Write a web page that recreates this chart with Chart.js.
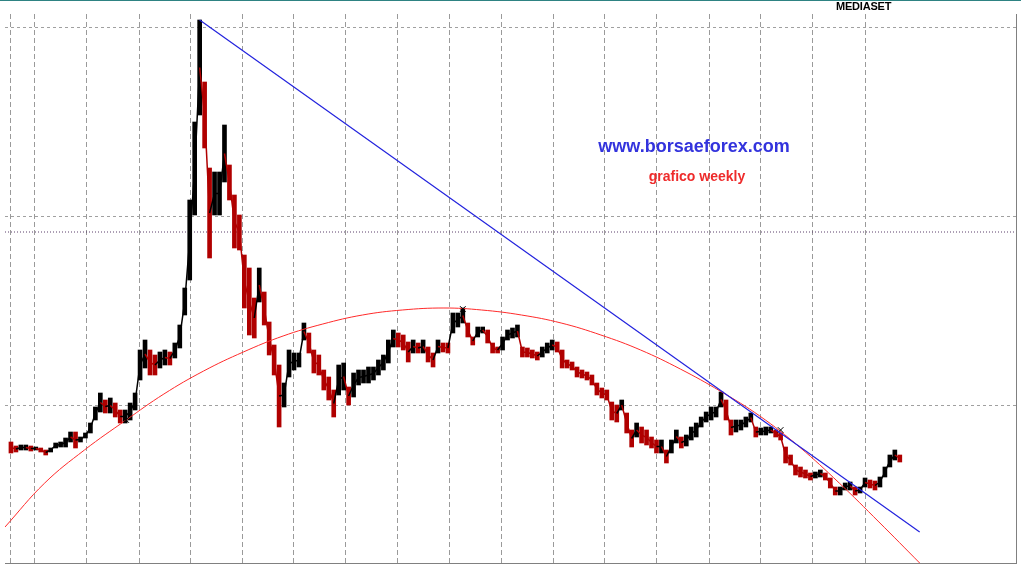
<!DOCTYPE html>
<html>
<head>
<meta charset="utf-8">
<script src="https://cdn.jsdelivr.net/npm/chart.js@4.4.1/dist/chart.umd.min.js"></script>
<style>
html, body { margin: 0; padding: 0; background: #fff; }
#wrap { position: relative; width: 1021px; height: 577px; overflow: hidden; }
#wrap canvas { position: absolute; left: 0; top: 0; }
#topline { position: absolute; left: 0; top: 0; width: 1021px; height: 1px; background: #2e8383; }
.lbl { position: absolute; font-family: "Liberation Sans", Arial, sans-serif; font-weight: bold; white-space: nowrap; line-height: 1; }
</style>
</head>
<body>
<div id="wrap">
  <canvas id="chart" width="1021" height="577"></canvas>
  <div id="topline"></div>
  <div class="lbl" style="left:836px;top:1px;font-size:11px;color:#000;letter-spacing:-0.2px">MEDIASET</div>
  <div class="lbl" style="left:694px;top:137px;font-size:18px;color:#3333dd;transform:translateX(-50%)">www.borsaeforex.com</div>
  <div class="lbl" style="left:697px;top:169px;font-size:14px;color:#ee2b2b;transform:translateX(-50%)">grafico weekly</div>
</div>

<script>
// weekly bars, one sample every 5 weeks starting july 1996 (week 0)
const firstWeek = 0;
const stepWeeks = 5;

// index points (high / low of each 5-week block)
const highs = [121,117,118,118,117,116,115,113,115,120,121,125,131,131,126,130,140,156,170,163,
  165,160,153,153,160,170,213,223,213,208,211,213,211,220,238,275,363,441,543,481,
  395,391,391,438,398,368,348,308,295,265,295,271,241,218,198,180,213,210,210,240,
  230,213,208,193,186,173,198,200,176,190,193,193,196,196,203,208,223,233,230,228,
  221,223,220,223,216,210,223,220,220,250,250,255,240,226,236,236,233,220,216,226,
  233,235,238,216,215,213,211,216,220,223,221,213,203,201,196,193,191,188,180,175,
  173,161,158,163,150,133,140,136,133,126,123,123,113,123,133,126,128,136,140,146,
  151,156,156,171,163,143,143,143,146,150,136,135,136,136,133,130,116,108,98,96,
  93,90,91,93,90,85,76,76,80,81,76,76,85,83,82,86,96,108,113,108];
const lows = [110,111,113,113,112,113,111,108,111,115,116,116,121,115,121,125,130,143,151,150,
  150,146,140,140,143,153,183,195,188,188,195,198,198,205,215,248,283,348,448,415,
  305,348,348,381,363,315,313,255,228,225,261,238,208,188,136,156,186,193,196,223,
  210,190,188,173,163,146,168,173,158,166,178,180,180,183,188,193,200,216,216,213,
  201,210,210,210,201,196,210,211,210,230,236,240,226,218,226,230,220,210,210,213,
  223,225,226,206,206,205,203,206,210,213,211,195,195,193,186,185,183,178,168,165,
  163,143,141,153,130,116,126,120,118,115,110,110,100,110,120,115,117,123,126,136,
  141,143,146,156,143,128,131,133,136,141,126,128,128,130,126,123,100,98,88,86,
  85,83,85,86,83,75,68,68,73,73,68,70,76,75,73,76,86,96,103,101];

// year boundaries (vertical grid) and horizontal levels
const gridWeeks = [0, 24, 76, 129, 181, 233, 285, 337, 389, 442, 494, 546, 598, 650, 703, 755, 807, 860];
const gridYears = ['1996', '1997', '1998', '1999', '2000', '2001', '2002', '2003', '2004', '2005', '2006', '2007', '2008', '2009', '2010', '2011', '2012', '2013'];
const levels = [535, 347, 158];
const dottedLevel = 331;

// trend line (blue) and arc (red)
const trendWeeks = [190, 915];
const trendValues = [543, 31];
const arcWeeks = [-6, 34, 74, 116, 154, 194, 234, 274, 314, 354, 394, 436, 474, 514, 554, 594, 634, 674, 714, 754, 794, 834, 874, 915];
const arcValues = [36, 80, 113, 143, 169, 192, 211, 227, 239, 248, 253, 255, 253, 248, 240, 228, 213, 194, 172, 147, 116, 80, 41, 0];

// crosses
const markWeeks = [116, 455, 775];
const markValues = [143, 254, 133];

const sampleWeeks = highs.map((h, i) => firstWeek + i * stepWeeks);
const mids = highs.map((h, i) => (h + lows[i]) / 2);
const barColors = mids.map((m, i) => (i > 0 && m >= mids[i - 1]) ? '#000000' : '#b00000');

const ctx = document.getElementById('chart').getContext('2d');
const chart = new Chart(ctx, {
  data: {
    datasets: [
      {
        type: 'line',
        data: [{x: -6, y: dottedLevel}, {x: 1012, y: dottedLevel}],
        borderColor: '#5b3f6a',
        borderWidth: 1,
        borderDash: [1, 2],
        pointRadius: 0,
        order: 4
      },
      {
        type: 'bar',
        data: sampleWeeks.map((w, i) => ({x: w, y: [lows[i], highs[i]]})),
        backgroundColor: barColors,
        borderWidth: 0,
        barThickness: 4,
        order: 3
      },
      {
        // thin joint between consecutive blocks
        type: 'line',
        data: sampleWeeks.map((w, i) => ({x: w, y: mids[i]})),
        borderWidth: 1.5,
        pointRadius: 0,
        segment: { borderColor: (c) => barColors[c.p1DataIndex] },
        order: 2
      },
      {
        type: 'line',
        data: arcWeeks.map((w, i) => ({x: w, y: arcValues[i]})),
        borderColor: '#ff2a2a',
        borderWidth: 1,
        tension: 0.4,
        pointRadius: 0,
        order: 1
      },
      {
        type: 'line',
        data: trendWeeks.map((w, i) => ({x: w, y: trendValues[i]})),
        borderColor: '#2222dd',
        borderWidth: 1.2,
        pointRadius: 0,
        order: 0
      },
      {
        type: 'scatter',
        data: markWeeks.map((w, i) => ({x: w, y: markValues[i]})),
        pointStyle: 'crossRot',
        pointRadius: 4,
        borderColor: '#000',
        borderWidth: 1,
        order: 0
      }
    ]
  },
  options: {
    responsive: false,
    animation: false,
    layout: { padding: { top: 14, bottom: 14, left: 0, right: 3 } },
    plugins: { legend: { display: false }, tooltip: { enabled: false } },
    scales: {
      x: {
        type: 'linear',
        offset: false,
        min: -6,
        max: 1012,
        afterBuildTicks: (s) => { s.ticks = gridWeeks.map(v => ({value: v})); },
        ticks: { display: false, callback: (v, i) => gridYears[i] },
        grid: { color: '#9a9a9a', drawTicks: false, offset: false },
        border: { display: true, color: '#808080', dash: [5, 3] }
      },
      y: {
        position: 'right',
        min: 0,
        max: 549,
        afterBuildTicks: (s) => { s.ticks = levels.map(v => ({value: v})); },
        ticks: { display: false },
        grid: { color: '#a0a0a0', drawTicks: false },
        border: { display: true, color: '#808080', dash: [3, 3] }
      }
    }
  }
});
</script>
</body>
</html>
